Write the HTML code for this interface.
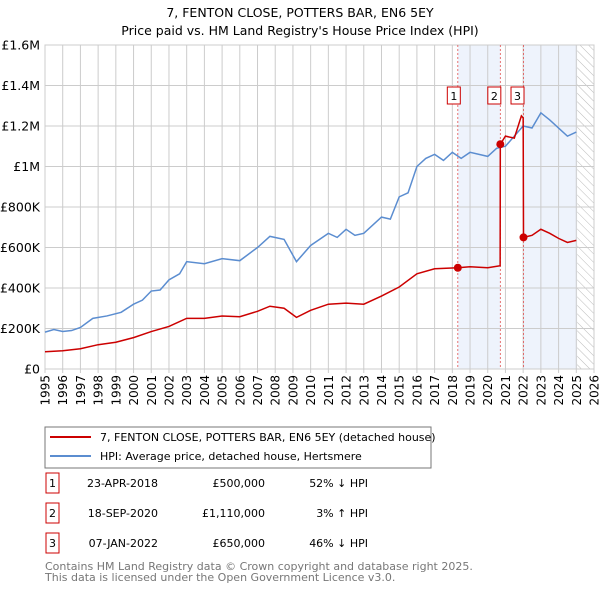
<!DOCTYPE html>
<html><head><meta charset="utf-8"><style>
body{margin:0;background:#fff;font-family:"Liberation Sans","DejaVu Sans",sans-serif}
svg text{font-family:"DejaVu Sans","Liberation Sans",sans-serif}
</style></head><body>
<svg id="c" width="600" height="590" viewBox="0 0 600 590" xmlns="http://www.w3.org/2000/svg">
<defs><pattern id="hatch" width="6" height="6" patternUnits="userSpaceOnUse" patternTransform="rotate(-45)"><line x1="0" y1="0" x2="0" y2="6" stroke="#bbb" stroke-width="1"/></pattern></defs>
<text x="300" y="17" text-anchor="middle" font-size="12.5">7, FENTON CLOSE, POTTERS BAR, EN6 5EY</text>
<text x="300" y="35" text-anchor="middle" font-size="12.5">Price paid vs. HM Land Registry's House Price Index (HPI)</text>
<g id="plot"></g>
<rect x="45" y="427" width="386" height="41" fill="#fff" stroke="#777"/>
<line x1="50" y1="437" x2="91" y2="437" stroke="#cc0000" stroke-width="2"/>
<text x="100" y="441" font-size="11">7, FENTON CLOSE, POTTERS BAR, EN6 5EY (detached house)</text>
<line x1="50" y1="456" x2="91" y2="456" stroke="#5b8dd0" stroke-width="2"/>
<text x="100" y="460" font-size="11">HPI: Average price, detached house, Hertsmere</text>
<g id="table" font-size="11"></g>
<text x="45" y="570" font-size="11" fill="#777">Contains HM Land Registry data © Crown copyright and database right 2025.</text>
<text x="45" y="581" font-size="11" fill="#777">This data is licensed under the Open Government Licence v3.0.</text>
</svg>
<script>
const yearTicks=[1995,1996,1997,1998,1999,2000,2001,2002,2003,2004,2005,2006,2007,2008,2009,2010,2011,2012,2013,2014,2015,2016,2017,2018,2019,2020,2021,2022,2023,2024,2025,2026];
const valueTicks=[0,200000,400000,600000,800000,1000000,1200000,1400000,1600000];
const valueTickLabels=["£0","£200K","£400K","£600K","£800K","£1M","£1.2M","£1.4M","£1.6M"];
const hpiDates=[1995,1995.5,1996,1996.5,1997,1997.7,1998.5,1999.3,2000,2000.5,2001,2001.5,2002,2002.6,2003,2004,2005,2006,2007,2007.7,2008.5,2009.2,2010,2011,2011.5,2012,2012.5,2013,2014,2014.5,2015,2015.5,2016,2016.5,2017,2017.5,2018,2018.5,2019,2020,2020.5,2021,2021.5,2022,2022.5,2023,2023.5,2024,2024.5,2025];
const hpiValues=[182000,195000,185000,190000,205000,250000,262000,280000,320000,340000,385000,390000,440000,470000,530000,520000,545000,535000,600000,655000,640000,530000,610000,670000,650000,690000,660000,670000,750000,740000,850000,870000,1000000,1040000,1060000,1030000,1070000,1040000,1070000,1050000,1090000,1100000,1150000,1200000,1190000,1265000,1230000,1190000,1150000,1170000];
const priceDates=[1995,1996,1997,1998,1999,2000,2001,2002,2003,2004,2005,2006,2007,2007.7,2008.5,2009.2,2010,2011,2012,2013,2014,2015,2016,2017,2018.31,2019,2020,2020.7,2020.71,2021,2021.5,2021.9,2022.0,2022.02,2022.5,2023,2023.5,2024,2024.5,2025];
const priceValues=[85000,90000,100000,120000,132000,155000,185000,210000,250000,250000,262000,258000,285000,310000,300000,255000,290000,320000,325000,320000,360000,405000,470000,495000,500000,505000,500000,510000,1110000,1150000,1140000,1250000,1240000,650000,660000,690000,670000,645000,625000,635000];
const saleLabels=["1","2","3"];
const saleDates=[2018.31,2020.71,2022.02];
const saleValues=[500000,1110000,650000];
const saleDateText=["23-APR-2018","18-SEP-2020","07-JAN-2022"];
const salePriceText=["£500,000","£1,110,000","£650,000"];
const saleHpiText=["52% ↓ HPI","3% ↑ HPI","46% ↓ HPI"];
const shadeRanges=[[2018.31,2020.71],[2022.02,2025.05]];

const X0=45,X1=594,Y0=369,Y1=45;
const xs=d=>X0+(d-1995)/(2026-1995)*(X1-X0);
const ys=v=>Y0-v/1600000*(Y0-Y1);
const NS="http://www.w3.org/2000/svg";
const plot=document.getElementById('plot');
function mk(tag,attrs,parent){const e=document.createElementNS(NS,tag);for(const k in attrs)e.setAttribute(k,attrs[k]);(parent||plot).appendChild(e);return e;}
shadeRanges.forEach(r=>{const e=mk('rect',{x:xs(r[0]),y:Y1,width:xs(r[1])-xs(r[0]),height:Y0-Y1,fill:'#eef3fc'});

});
const h=mk('rect',{x:xs(2025.05),y:Y1,width:X1-xs(2025.05),height:Y0-Y1,fill:'url(#hatch)'});


yearTicks.forEach(y=>{const l=mk('line',{x1:xs(y),x2:xs(y),y1:Y1,y2:Y0+4,stroke:'#ccc'});


const t=mk('text',{x:0,y:0,'font-size':12,'text-anchor':'end',transform:`translate(${xs(y)+4.5},${Y0+6}) rotate(-90)`});t.textContent=y;

});
valueTicks.forEach((v,i)=>{const l=mk('line',{x1:X0,x2:X1,y1:ys(v),y2:ys(v),stroke:'#ccc'});


const t=mk('text',{x:40,y:ys(v)+4.5,'font-size':12.5,'text-anchor':'end'});t.textContent=valueTickLabels[i];

});
mk('rect',{x:X0,y:Y1,width:X1-X0,height:Y0-Y1,fill:'none',stroke:'#ccc'});
saleDates.forEach((d,i)=>{const l=mk('line',{x1:xs(d),x2:xs(d),y1:Y1,y2:Y0,stroke:'#e05050','stroke-dasharray':'2,2','stroke-width':0.8});

});
const hp=mk('polyline',{points:hpiDates.map((d,i)=>xs(d)+','+ys(hpiValues[i])).join(' '),fill:'none',stroke:'#5b8dd0','stroke-width':1.5});


const pp=mk('polyline',{points:priceDates.map((d,i)=>xs(d)+','+ys(priceValues[i])).join(' '),fill:'none',stroke:'#cc0000','stroke-width':1.5});


saleDates.forEach((d,i)=>{const c=mk('circle',{cx:xs(d),cy:ys(saleValues[i]),r:4,fill:'#cc0000'});


const bx=xs(d)+(i==0?-4:-6);
const b=mk('rect',{x:bx-6.5,y:87,width:13,height:17,fill:'#fff',stroke:'#cc0000'});


const t=mk('text',{x:bx,y:100,'font-size':11,'text-anchor':'middle'});t.textContent=saleLabels[i];

});
const tb=document.getElementById('table');
saleLabels.forEach((s,i)=>{const y=483+i*30;
const b=mk('rect',{x:46,y:y-10,width:13,height:20,fill:'#fff',stroke:'#cc0000'},tb);


const vals=[[52.5,s,'middle'],[158,saleDateText[i],'end'],[265,salePriceText[i],'end'],[368,saleHpiText[i],'end']];
vals.forEach(v=>{const t=mk('text',{x:v[0],y:y+4,'text-anchor':v[2]},tb);t.textContent=v[1];

});});
</script>
</body></html>
